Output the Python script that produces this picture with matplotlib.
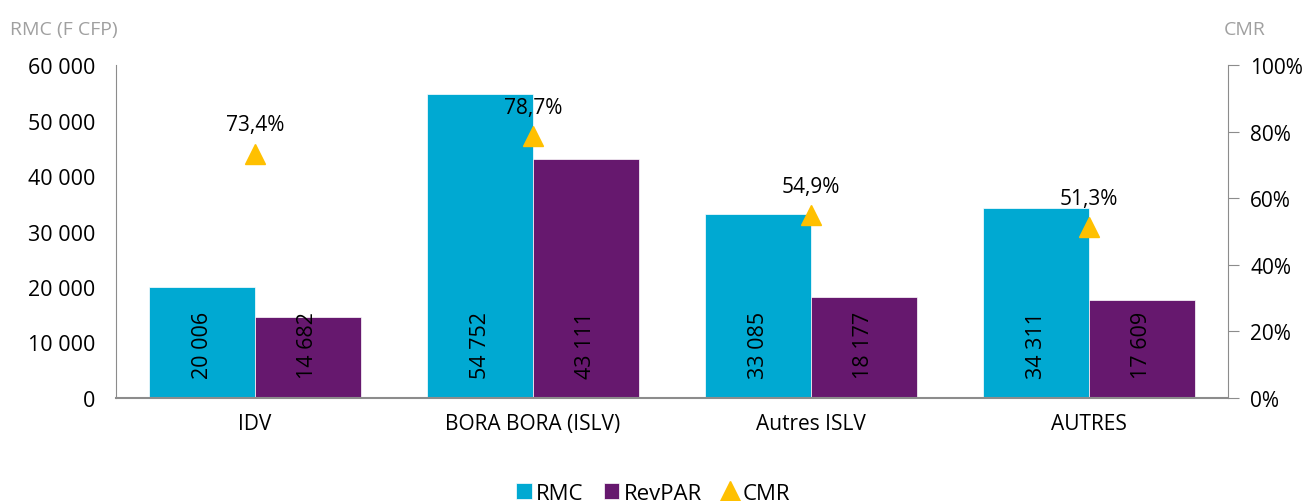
import matplotlib.pyplot as plt
import numpy as np

categories = ["IDV", "BORA BORA (ISLV)", "Autres ISLV", "AUTRES"]
rmc = [20006, 54752, 33085, 34311]
revpar = [14682, 43111, 18177, 17609]
cmr = [73.4, 78.7, 54.9, 51.3]

plt.rcParams['font.family'] = ['Open Sans', 'DejaVu Sans']

fig = plt.figure(figsize=(13.06, 5.02), dpi=100)
ax = fig.add_axes([0.0888, 0.2052, 0.8515, 0.6633])

x = np.arange(len(categories))
w = 0.38
b1 = ax.bar(x - w / 2, rmc, w, color="#00A9D2", edgecolor="white", linewidth=0.5, label="RMC")
b2 = ax.bar(x + w / 2, revpar, w, color="#66186E", edgecolor="white", linewidth=0.5, label="RevPAR")

def fmt(v):
    return f"{v:,}".replace(",", " ")

for bars, vals in ((b1, rmc), (b2, revpar)):
    for r, v in zip(bars, vals):
        ax.text(r.get_x() + r.get_width() / 2, 9700, fmt(v), rotation=90,
                ha="center", va="center", fontsize=15.5)

ax.set_xlim(-0.5, len(categories) - 0.5)
ax.set_ylim(0, 60000)
ax.set_yticks(range(0, 60001, 10000))
ax.set_yticklabels([fmt(v) for v in range(0, 60001, 10000)], fontsize=15.5)
ax.set_xticks(x)
ax.set_xticklabels(categories, fontsize=15)
ax.tick_params(axis="y", length=0, pad=15)
ax.tick_params(axis="x", length=0, pad=11)
for s in ("top", "right"):
    ax.spines[s].set_visible(False)
ax.spines["left"].set_color("#8c8c8c")
ax.spines["bottom"].set_color("#8c8c8c")
ax.spines["bottom"].set_linewidth(1.5)

ax2 = ax.twinx()
l3, = ax2.plot(x, cmr, linestyle="none", marker="^", markersize=14, color="#FFC000", label="CMR")
for xi, v in zip(x, cmr):
    ax2.text(xi, v + 5.5, f"{v:.1f}%".replace(".", ","), ha="center", va="bottom", fontsize=15)
ax2.set_ylim(0, 100)
ax2.set_yticks(range(0, 101, 20))
ax2.set_yticklabels([f"{v}%" for v in range(0, 101, 20)], fontsize=15)
ax2.tick_params(axis="y", length=8, color="#8c8c8c", pad=8)
for s in ("top", "left", "bottom"):
    ax2.spines[s].set_visible(False)
ax2.spines["right"].set_color("#8c8c8c")

fig.text(0.008, 0.93, "RMC (F CFP)", fontsize=14, color="#a0a0a0")
fig.text(0.937, 0.93, "CMR", fontsize=14, color="#a0a0a0")

fig.legend([b1, b2, l3], ["RMC", "RevPAR", "CMR"], loc="lower center",
           bbox_to_anchor=(0.5, -0.045), ncol=3, frameon=False, fontsize=16,
           handlelength=0.7, handletextpad=0.2, columnspacing=0.9)

fig.savefig("out.png", dpi=100)
